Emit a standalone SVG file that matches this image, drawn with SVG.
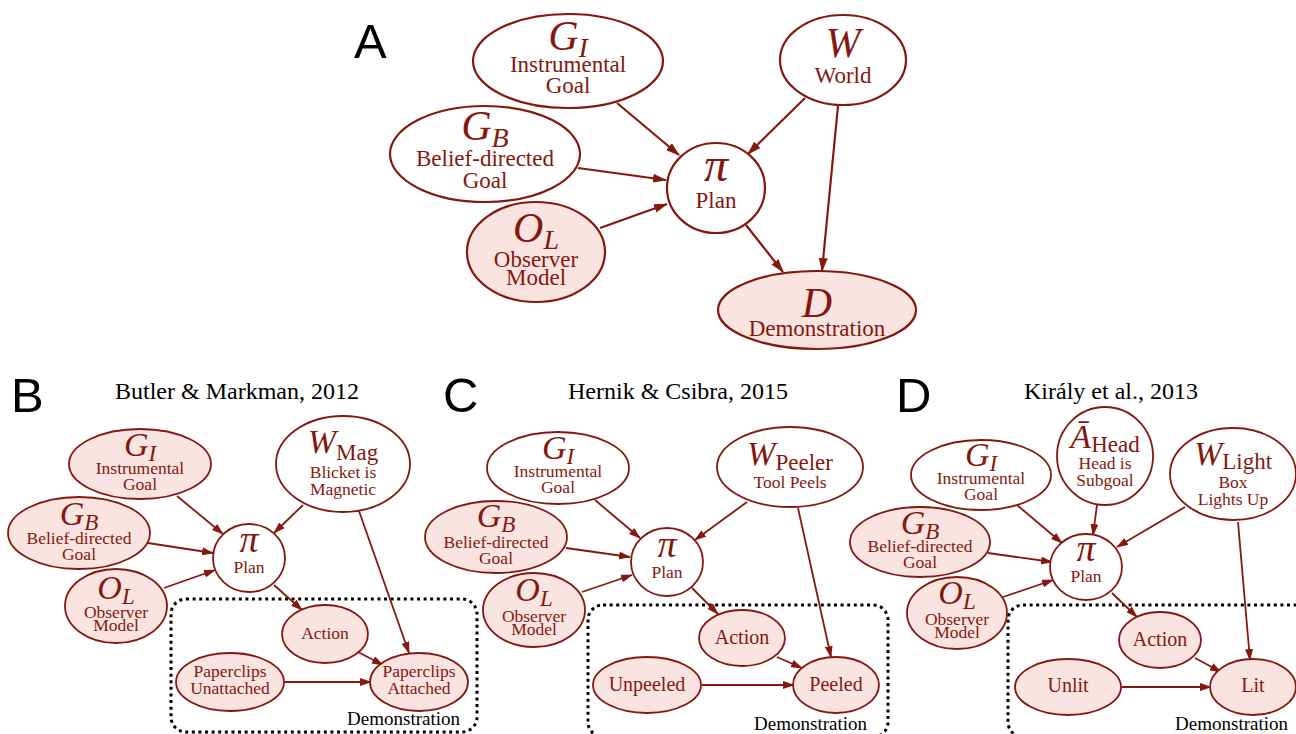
<svg xmlns="http://www.w3.org/2000/svg" width="1296" height="734" viewBox="0 0 1296 734">
<style>
.n{stroke:#85180e;stroke-width:1.8;fill:#fff}
.nA{stroke:#85180e;stroke-width:2.2;fill:#fff}
.f{fill:#fae4e1}
.t{font-family:"Liberation Serif",serif;fill:#85180e;text-anchor:middle;font-size:17.5px}
.tA{font-size:23px}
.tL{font-size:20px}
.m{font-family:"Liberation Serif",serif;font-style:italic;fill:#85180e;text-anchor:middle;font-size:34px}
.mA{font-size:42px}
.pi{font-size:38px}
.piA{font-size:48px}
.s{font-size:23px}
.sA{font-size:28px}
.r{font-style:normal}
.e{stroke:#85180e;stroke-width:1.8;fill:none;marker-end:url(#ah)}
.eA{stroke:#85180e;stroke-width:2.2;fill:none;marker-end:url(#ahA)}
.box{fill:none;stroke:#000;stroke-width:3;stroke-dasharray:3 3.6}
.dem{font-family:"Liberation Serif",serif;fill:#000;font-size:19px;text-anchor:end}
.ttl{font-family:"Liberation Serif",serif;fill:#000;font-size:24px;text-anchor:middle}
.pl{font-family:"Liberation Sans",Arial,sans-serif;fill:#000;font-size:49px}
</style>
<defs>
<marker id="ah" viewBox="0 0 12 8" refX="11" refY="4" markerWidth="12" markerHeight="8" markerUnits="userSpaceOnUse" orient="auto"><path d="M0,0 L12,4 L0,8 z" fill="#85180e"/></marker>
<marker id="ahA" viewBox="0 0 14 9" refX="13" refY="4.5" markerWidth="14" markerHeight="9" markerUnits="userSpaceOnUse" orient="auto"><path d="M0,0 L14,4.5 L0,9 z" fill="#85180e"/></marker>
</defs>

<!-- Panel labels and titles -->
<g id="labels">
<text class="pl" x="354" y="58">A</text>
<text class="pl" x="11" y="412">B</text>
<text class="pl" x="443" y="412">C</text>
<text class="pl" x="896" y="412">D</text>
<text class="ttl" x="237" y="399">Butler &amp; Markman, 2012</text>
<text class="ttl" x="678" y="399">Hernik &amp; Csibra, 2015</text>
<text class="ttl" x="1111" y="399">Király et al., 2013</text>
</g>

<!-- Demonstration boxes -->
<g id="boxes">
<rect class="box" x="171" y="599" width="306" height="133" rx="15"/>
<text class="dem" x="460" y="725">Demonstration</text>
<rect class="box" x="588" y="605" width="300" height="132" rx="15"/>
<text class="dem" x="867" y="730">Demonstration</text>
<rect class="box" x="1008" y="605" width="320" height="132" rx="15"/>
<text class="dem" x="1288" y="730">Demonstration</text>
</g>

<!-- Connectors -->
<g id="connectors">
<!-- A -->
<path class="eA" d="M617,103 L679,155"/>
<path class="eA" d="M805,98 L748,154"/>
<path class="eA" d="M838,106 L822,271"/>
<path class="eA" d="M578,168 L666,180"/>
<path class="eA" d="M600,228 L667,204"/>
<path class="eA" d="M746,225 L783,272"/>
<!-- B -->
<path class="e" d="M177,496 L223,534"/>
<path class="e" d="M303,505 L274,533"/>
<path class="e" d="M148,543 L213,553"/>
<path class="e" d="M164,588 L215,570"/>
<path class="e" d="M274,585 L302,610"/>
<path class="e" d="M359,511 L409,653"/>
<path class="e" d="M358,652 L383,665"/>
<path class="e" d="M285,682 L371,682"/>
<!-- C -->
<path class="e" d="M595,500 L640,538"/>
<path class="e" d="M747,502 L695,540"/>
<path class="e" d="M566,548 L630,557"/>
<path class="e" d="M582,592 L632,575"/>
<path class="e" d="M692,588 L718,614"/>
<path class="e" d="M798,508 L831,657"/>
<path class="e" d="M777,657 L802,668"/>
<path class="e" d="M702,685 L794,685"/>
<!-- D -->
<path class="e" d="M1017,505 L1062,543"/>
<path class="e" d="M1097,505 L1093,535"/>
<path class="e" d="M1185,507 L1117,547"/>
<path class="e" d="M988,553 L1052,562"/>
<path class="e" d="M1003,597 L1053,580"/>
<path class="e" d="M1112,593 L1137,617"/>
<path class="e" d="M1238,522 L1250,660"/>
<path class="e" d="M1195,658 L1221,672"/>
<path class="e" d="M1122,687 L1211,687"/>
</g>

<!-- Panel A nodes -->
<g id="A-GI">
<ellipse class="nA" cx="568" cy="61" rx="95" ry="47"/>
<text class="m mA" x="568" y="50">G<tspan class="sA" dy="7">I</tspan></text>
<text class="t tA" x="568" y="72">Instrumental</text>
<text class="t tA" x="568" y="93">Goal</text>
</g>
<g id="A-W">
<ellipse class="nA" cx="843" cy="60" rx="63" ry="45"/>
<text class="m mA" x="843" y="57">W</text>
<text class="t tA" x="843" y="83">World</text>
</g>
<g id="A-GB">
<ellipse class="nA" cx="485" cy="154" rx="95" ry="48"/>
<text class="m mA" x="485" y="140">G<tspan class="sA" dy="7">B</tspan></text>
<text class="t tA" x="485" y="166">Belief-directed</text>
<text class="t tA" x="485" y="188">Goal</text>
</g>
<g id="A-Plan">
<ellipse class="nA" cx="716" cy="188" rx="49" ry="45"/>
<text class="m piA" x="716" y="181">π</text>
<text class="t tA" x="716" y="208">Plan</text>
</g>
<g id="A-OL">
<ellipse class="nA f" cx="536" cy="252" rx="69" ry="50"/>
<text class="m mA" x="536" y="242">O<tspan class="sA" dy="7">L</tspan></text>
<text class="t tA" x="536" y="267">Observer</text>
<text class="t tA" x="536" y="285">Model</text>
</g>
<g id="A-D">
<ellipse class="nA f" cx="817" cy="310" rx="99" ry="39"/>
<text class="m mA" x="817" y="317">D</text>
<text class="t tA" x="817" y="336">Demonstration</text>
</g>

<!-- Panel B nodes -->
<g id="B-GI">
<ellipse class="n f" cx="140" cy="464" rx="71" ry="35"/>
<text class="m" x="140" y="456">G<tspan class="s" dy="5">I</tspan></text>
<text class="t" x="140" y="474">Instrumental</text>
<text class="t" x="140" y="490">Goal</text>
</g>
<g id="B-W">
<ellipse class="n" cx="343" cy="464" rx="67" ry="48"/>
<text class="m" x="343" y="453">W<tspan class="s r" dy="7">Mag</tspan></text>
<text class="t" x="343" y="478">Blicket is</text>
<text class="t" x="343" y="495">Magnetic</text>
</g>
<g id="B-GB">
<ellipse class="n f" cx="79" cy="533" rx="71" ry="36"/>
<text class="m" x="79" y="525">G<tspan class="s" dy="5">B</tspan></text>
<text class="t" x="79" y="544">Belief-directed</text>
<text class="t" x="79" y="560">Goal</text>
</g>
<g id="B-Plan">
<ellipse class="n" cx="249" cy="558" rx="36" ry="34"/>
<text class="m pi" x="249" y="552">π</text>
<text class="t" x="249" y="573">Plan</text>
</g>
<g id="B-OL">
<ellipse class="n f" cx="116" cy="606" rx="51" ry="37"/>
<text class="m" x="116" y="599">O<tspan class="s" dy="5">L</tspan></text>
<text class="t" x="116" y="618">Observer</text>
<text class="t" x="116" y="631">Model</text>
</g>
<g id="B-Action">
<ellipse class="n f" cx="325" cy="634" rx="43" ry="29"/>
<text class="t" x="325" y="639">Action</text>
</g>
<g id="B-Unattached">
<ellipse class="n f" cx="230" cy="682" rx="54" ry="29"/>
<text class="t" x="230" y="677">Paperclips</text>
<text class="t" x="230" y="694">Unattached</text>
</g>
<g id="B-Attached">
<ellipse class="n f" cx="419" cy="682" rx="49" ry="29"/>
<text class="t" x="419" y="677">Paperclips</text>
<text class="t" x="419" y="694">Attached</text>
</g>

<!-- Panel C nodes -->
<g id="C-GI">
<ellipse class="n" cx="558" cy="468" rx="71" ry="36"/>
<text class="m" x="558" y="459">G<tspan class="s" dy="5">I</tspan></text>
<text class="t" x="558" y="477">Instrumental</text>
<text class="t" x="558" y="493">Goal</text>
</g>
<g id="C-W">
<ellipse class="n" cx="790" cy="467" rx="73" ry="40"/>
<text class="m" x="790" y="465">W<tspan class="s r" dy="5">Peeler</tspan></text>
<text class="t" x="790" y="488">Tool Peels</text>
</g>
<g id="C-GB">
<ellipse class="n f" cx="496" cy="537" rx="71" ry="36"/>
<text class="m" x="496" y="527">G<tspan class="s" dy="5">B</tspan></text>
<text class="t" x="496" y="548">Belief-directed</text>
<text class="t" x="496" y="564">Goal</text>
</g>
<g id="C-Plan">
<ellipse class="n" cx="667" cy="562" rx="36" ry="34"/>
<text class="m pi" x="667" y="557">π</text>
<text class="t" x="667" y="578">Plan</text>
</g>
<g id="C-OL">
<ellipse class="n f" cx="534" cy="610" rx="51" ry="37"/>
<text class="m" x="534" y="601">O<tspan class="s" dy="5">L</tspan></text>
<text class="t" x="534" y="622">Observer</text>
<text class="t" x="534" y="635">Model</text>
</g>
<g id="C-Action">
<ellipse class="n f" cx="742" cy="638" rx="43" ry="28"/>
<text class="t tL" x="742" y="644">Action</text>
</g>
<g id="C-Unpeeled">
<ellipse class="n f" cx="647" cy="685" rx="54" ry="28"/>
<text class="t tL" x="647" y="691">Unpeeled</text>
</g>
<g id="C-Peeled">
<ellipse class="n f" cx="836" cy="685" rx="43" ry="28"/>
<text class="t tL" x="836" y="691">Peeled</text>
</g>

<!-- Panel D nodes -->
<g id="D-GI">
<ellipse class="n" cx="981" cy="475" rx="70" ry="35"/>
<text class="m" x="981" y="466">G<tspan class="s" dy="5">I</tspan></text>
<text class="t" x="981" y="484">Instrumental</text>
<text class="t" x="981" y="500">Goal</text>
</g>
<g id="D-AHead">
<ellipse class="n" cx="1105" cy="456" rx="48" ry="49"/>
<text class="m" x="1105" y="448">Ā<tspan class="s r" dy="4">Head</tspan></text>
<text class="t" x="1105" y="469">Head is</text>
<text class="t" x="1105" y="486">Subgoal</text>
</g>
<g id="D-W">
<ellipse class="n" cx="1233" cy="474" rx="63" ry="46"/>
<text class="m" x="1233" y="465">W<tspan class="s r" dy="4">Light</tspan></text>
<text class="t" x="1233" y="488">Box</text>
<text class="t" x="1233" y="505">Lights Up</text>
</g>
<g id="D-GB">
<ellipse class="n f" cx="920" cy="542" rx="70" ry="35"/>
<text class="m" x="920" y="534">G<tspan class="s" dy="5">B</tspan></text>
<text class="t" x="920" y="552">Belief-directed</text>
<text class="t" x="920" y="568">Goal</text>
</g>
<g id="D-Plan">
<ellipse class="n" cx="1086" cy="567" rx="36" ry="33"/>
<text class="m pi" x="1086" y="561">π</text>
<text class="t" x="1086" y="582">Plan</text>
</g>
<g id="D-OL">
<ellipse class="n f" cx="957" cy="613" rx="50" ry="36"/>
<text class="m" x="957" y="604">O<tspan class="s" dy="5">L</tspan></text>
<text class="t" x="957" y="625">Observer</text>
<text class="t" x="957" y="638">Model</text>
</g>
<g id="D-Action">
<ellipse class="n f" cx="1160" cy="640" rx="41" ry="28"/>
<text class="t tL" x="1160" y="646">Action</text>
</g>
<g id="D-Unlit">
<ellipse class="n f" cx="1068" cy="687" rx="53" ry="28"/>
<text class="t tL" x="1068" y="692">Unlit</text>
</g>
<g id="D-Lit">
<ellipse class="n f" cx="1253" cy="687" rx="43" ry="28"/>
<text class="t tL" x="1253" y="692">Lit</text>
</g>
</svg>
